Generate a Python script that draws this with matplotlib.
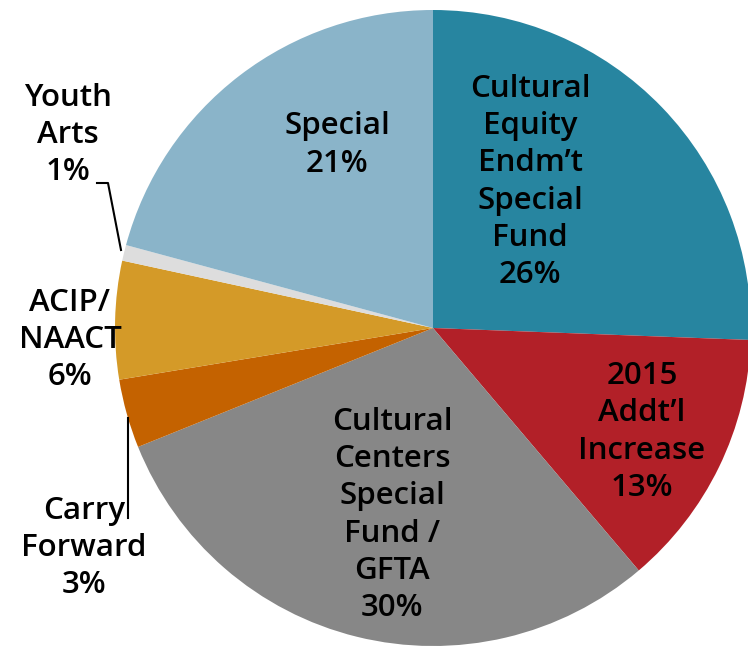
import matplotlib
matplotlib.use("Agg")
import matplotlib.pyplot as plt

# slice shares (clockwise from 12 o'clock)
shares = [25.6, 13.2, 30.1, 3.5, 6.0, 0.8, 20.8]
labels = [
    "Cultural\nEquity\nEndm\u2019t\nSpecial\nFund\n26%",
    "2015\nAddt\u2019l\nIncrease\n13%",
    "Cultural\nCenters\nSpecial\nFund /\nGFTA\n30%",
    "Carry\nForward\n3%",
    "ACIP/\nNAACT\n6%",
    "Youth\nArts\n1%",
    "Special\n21%",
]
colors = ["#2785A0", "#B22028", "#878787", "#C46200", "#D49A28", "#DDDDDD", "#8AB4C9"]

W, H = 748, 647
fig = plt.figure(figsize=(W / 100, H / 100), dpi=100)
ax = fig.add_axes([0, 0, 1, 1])

cx, cy, r = 433, H - 328, 318
ax.pie(shares, colors=colors, startangle=90, counterclock=False,
       center=(cx, cy), radius=r, frame=True,
       wedgeprops=dict(linewidth=0))
ax.set_xlim(0, W)
ax.set_ylim(0, H)
ax.set_aspect("equal")
ax.axis("off")

# label positions in pixels (x, y from top)
label_pos = [(530, 182), (642, 432), (392, 515), (84, 548),
             (70, 340), (68, 135), (337, 145)]
for text, (x, y) in zip(labels, label_pos):
    ax.text(x, H - y, text, ha="center", va="center", fontsize=22.5,
            family=["Open Sans", "DejaVu Sans"], fontweight="semibold",
            linespacing=1.32, color="black")

# leader lines
ax.plot([97, 108, 121], [H - 183, H - 183, H - 250], color="black", lw=1.5)
ax.plot([128, 128], [H - 418, H - 518], color="black", lw=1.5)

fig.savefig("out.png", dpi=100)
